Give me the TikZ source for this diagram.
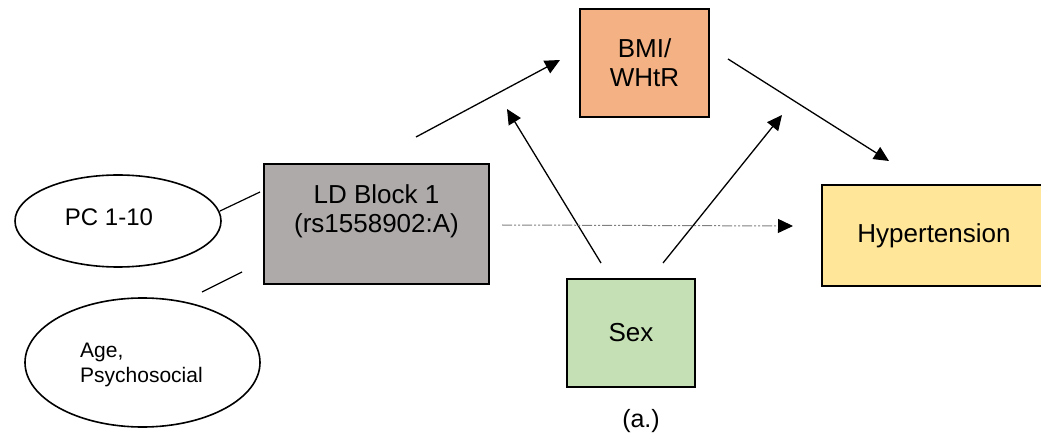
\documentclass[tikz,border=0pt]{standalone}
\usepackage{fontspec}
\setmainfont{Liberation Sans}
\usetikzlibrary{arrows.meta,shapes.geometric}
\definecolor{ldgray}{HTML}{AEAAAA}
\definecolor{bmiorange}{HTML}{F4B183}
\definecolor{hypyellow}{HTML}{FFE699}
\definecolor{sexgreen}{HTML}{C5E0B4}
\begin{document}
\begin{tikzpicture}[x=1pt,y=-1pt,
  box/.style={draw=black,line width=2pt,inner sep=0pt},
  oval/.style={draw=black,ellipse,line width=1.6pt,inner sep=0pt},
  big/.style={font=\fontsize{26}{29}\selectfont,align=center,inner sep=0pt},
  arr/.style={line width=1.3pt,-{Triangle[length=15pt,width=14pt]}},
  link/.style={line width=1.2pt},
  direct/.style={draw=gray,line width=1pt,
    dash pattern=on 10pt off 2pt on 2pt off 2pt on 2pt off 2pt,
    -{Triangle[length=15pt,width=14pt,color=black,fill=black]}}]
\useasboundingbox (0,0) rectangle (1041,438);

% boxes
\node[box,fill=ldgray,minimum width=225,minimum height=120] (ld) at (376.5,224) {};
\node[big] (ldtext) at (376.5,211) {LD Block 1\\(rs1558902:A)};
\node[box,fill=bmiorange,minimum width=129,minimum height=108,big] (bmi) at (644.5,63) {BMI/\\WHtR};
\node[box,fill=hypyellow,minimum width=228,minimum height=101] (hyp) at (936,235.5) {};
\node[big] (hyptext) at (934,236) {Hypertension};
\node[box,fill=sexgreen,minimum width=128,minimum height=108,big] (sex) at (631,333) {Sex};

% covariate ellipses
\node[oval,minimum width=206,minimum height=92] (pc) at (118,221) {};
\node[anchor=base,inner sep=0pt,font=\fontsize{24}{28}\selectfont] (pctext) at (109,226) {PC 1-10};
\node[oval,minimum width=235,minimum height=129] (age) at (142.5,362.5) {};
\node[anchor=west,align=left,inner sep=0pt,font=\fontsize{21}{25}\selectfont] (agetext) at (80,365) {Age,\\Psychosocial};

% caption
\node[anchor=base,inner sep=0pt,font=\fontsize{25}{29}\selectfont] (cap) at (641,427) {(a.)};

% connector end points
\coordinate (pcA) at (220,211);
\coordinate (pcB) at (260,192);
\coordinate (agA) at (202,292);
\coordinate (agB) at (242,272);
\coordinate (ldOut) at (416,137);
\coordinate (bmiIn) at (560,60);
\coordinate (sexL) at (601,263);
\coordinate (bmiL) at (507,109);
\coordinate (sexR) at (663,263);
\coordinate (bmiR) at (782,115);
\coordinate (bmiOut) at (728,59);
\coordinate (hypIn) at (889,161);
\coordinate (ldDir) at (502,225);
\coordinate (hypDir) at (793,226);

% connectors
\draw[link] (pcA) -- (pcB);
\draw[link] (agA) -- (agB);
\draw[arr] (ldOut) -- (bmiIn);
\draw[arr] (sexL) -- (bmiL);
\draw[arr] (sexR) -- (bmiR);
\draw[arr] (bmiOut) -- (hypIn);
\draw[direct] (ldDir) -- (hypDir);
\end{tikzpicture}
\end{document}
